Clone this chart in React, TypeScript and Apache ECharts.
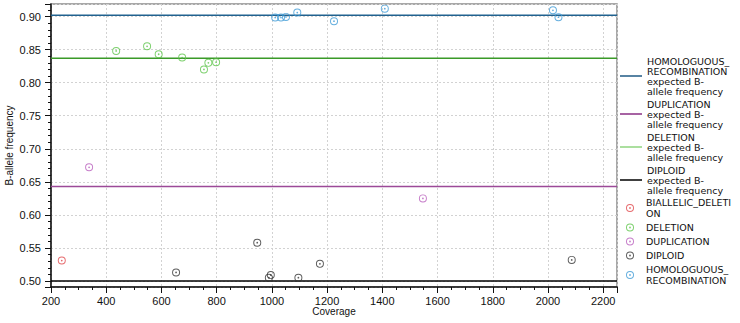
import React, { useEffect, useRef } from "react";
import * as echarts from "echarts";

// ---- data ----
const biallelicCoverage = [239];
const biallelicBaf = [0.531];
const deletionCoverage = [436, 548, 590, 675, 754, 770, 798];
const deletionBaf = [0.848, 0.855, 0.843, 0.838, 0.82, 0.83, 0.831];
const duplicationCoverage = [338, 1547];
const duplicationBaf = [0.672, 0.625];
const diploidCoverage = [653, 947, 989, 996, 1096, 1174, 2086];
const diploidBaf = [0.513, 0.558, 0.505, 0.509, 0.505, 0.526, 0.532];
const homCoverage = [1012, 1033, 1051, 1092, 1225, 1409, 2018, 2038];
const homBaf = [0.8985, 0.8985, 0.8995, 0.906, 0.893, 0.912, 0.9095, 0.899];

const expectedNames = [
  "HOMOLOGUOUS_RECOMBINATION expected B-allele frequency",
  "DUPLICATION expected B-allele frequency",
  "DELETION expected B-allele frequency",
  "DIPLOID expected B-allele frequency",
];
const expectedLabels = [
  "HOMOLOGUOUS_\nRECOMBINATION\nexpected B-\nallele frequency",
  "DUPLICATION\nexpected B-\nallele frequency",
  "DELETION\nexpected B-\nallele frequency",
  "DIPLOID\nexpected B-\nallele frequency",
];
const expectedValues = [0.902, 0.643, 0.837, 0.5];
const expectedColors = ["#21628f", "#9c4a98", "#3a9a28", "#000000"];
const expectedLegendColors = ["#1f5a85", "#8a2f84", "#8fd47f", "#000000"];

const pointNames = [
  "BIALLELIC_DELETION",
  "DELETION",
  "DUPLICATION",
  "DIPLOID",
  "HOMOLOGUOUS_RECOMBINATION",
];
const pointLabels = [
  "BIALLELIC_DELETI\nON",
  "DELETION",
  "DUPLICATION",
  "DIPLOID",
  "HOMOLOGUOUS_\nRECOMBINATION",
];
const pointColors = ["#e0464a", "#5cc44a", "#b85cbc", "#333333", "#3d9ad6"];
const pointX = [biallelicCoverage, deletionCoverage, duplicationCoverage, diploidCoverage, homCoverage];
const pointY = [biallelicBaf, deletionBaf, duplicationBaf, diploidBaf, homBaf];

const xMin = 200;
const xMax = 2250;
const yMin = 0.491;
const yMax = 0.919;

const SYMBOL =
  "path://M5,0A5,5,0,1,0,-5,0A5,5,0,1,0,5,0ZM3.8,0A3.8,3.8,0,1,1,-3.8,0A3.8,3.8,0,1,1,3.8,0ZM1.1,0A1.1,1.1,0,1,0,-1.1,0A1.1,1.1,0,1,0,1.1,0Z";

export default function App() {
  const ref = useRef<HTMLDivElement>(null);
  useEffect(() => {
    if (!ref.current) return;
    const chart = echarts.init(ref.current, undefined, { renderer: "svg" });
    const font = "Liberation Sans";
    const legendFont = "DejaVu Sans";
    const labelMap: Record<string, string> = {};
    expectedNames.forEach((n, i) => (labelMap[n] = expectedLabels[i]));
    pointNames.forEach((n, i) => (labelMap[n] = pointLabels[i]));

    const lineSeries = expectedNames.map((name, i) => ({
      name,
      type: "line",
      symbol: "none",
      silent: true,
      z: 1,
      data: [
        [xMin, expectedValues[i]],
        [xMax, expectedValues[i]],
      ],
      lineStyle: { color: expectedColors[i], width: 1.5 },
      itemStyle: { color: expectedColors[i] },
    }));
    const scatterSeries = pointNames.map((name, i) => ({
      name,
      type: "scatter",
      symbol: SYMBOL,
      symbolSize: 8,
      z: 3,
      data: pointX[i].map((x, j) => [x, pointY[i][j]]),
      itemStyle: { color: pointColors[i] },
    }));

    chart.setOption({
      animation: false,
      textStyle: { fontFamily: font },
      grid: {
        left: 51,
        right: 123,
        top: 4,
        bottom: 36,
        containLabel: false,
        outerBoundsMode: "none",
        show: true,
        borderColor: "#8c8c8c",
        borderWidth: 1.5,
      },
      xAxis: {
        type: "value",
        min: xMin,
        max: xMax,
        interval: 200,
        name: "Coverage",
        nameLocation: "middle",
        nameGap: 19,
        nameMoveOverlap: false,
        nameTextStyle: { fontSize: 10, color: "#111", fontFamily: font },
        axisLine: { show: true, onZero: false, lineStyle: { color: "#111", width: 1.5 } },
        axisTick: { show: true, length: 6, lineStyle: { color: "#111" } },
        minorTick: { show: true, splitNumber: 4, length: 3, lineStyle: { color: "#111" } },
        axisLabel: {
          color: "#111",
          fontSize: 11,
          margin: 8,
          fontFamily: font,
          formatter: (v: number) => (Math.abs(v % 200) < 1e-6 ? String(v) : ""),
        },
        splitLine: { show: true, lineStyle: { color: "#d2d2d2", type: [2, 2] } },
      },
      yAxis: {
        type: "value",
        min: yMin,
        max: yMax,
        splitNumber: 8,
        name: "B-allele frequency",
        nameLocation: "middle",
        nameGap: 37,
        nameMoveOverlap: false,
        nameTextStyle: { fontSize: 10, color: "#111", fontFamily: font },
        axisLine: { show: true, onZero: false, lineStyle: { color: "#111", width: 1.5 } },
        axisTick: { show: true, length: 6, lineStyle: { color: "#111" } },
        minorTick: { show: true, splitNumber: 5, length: 3, lineStyle: { color: "#111" } },
        axisLabel: {
          color: "#111",
          fontSize: 11,
          margin: 10,
          fontFamily: font,
          formatter: (v: number) =>
            Math.abs(v * 20 - Math.round(v * 20)) < 1e-6 ? v.toFixed(2) : "",
        },
        splitLine: { show: true, lineStyle: { color: "#d2d2d2", type: [2, 2] } },
      },
      legend: [
        {
          orient: "vertical",
          left: 620,
          top: 56,
          padding: 0,
          itemWidth: 22,
          itemHeight: 1.5,
          itemGap: 3,
          selectedMode: false,
          icon: "rect",
          data: expectedNames.map((n, i) => ({
            name: n,
            icon: "rect",
            itemStyle: { color: expectedLegendColors[i], borderWidth: 0 },
          })),
          formatter: (n: string) => labelMap[n] || n,
          textStyle: { fontSize: 9.5, lineHeight: 10, color: "#111", fontFamily: legendFont },
        },
        {
          orient: "vertical",
          left: 626,
          top: 197,
          padding: 0,
          itemWidth: 8,
          itemHeight: 8,
          itemGap: 3,
          selectedMode: false,
          data: pointNames,
          formatter: (n: string) => labelMap[n] || n,
          textStyle: {
            fontSize: 9.5,
            lineHeight: 11,
            color: "#111",
            fontFamily: legendFont,
            padding: [0, 0, 0, 7],
          },
        },
      ],
      series: [...lineSeries, ...scatterSeries],
    });
    return () => chart.dispose();
  }, []);
  return (
    <div
      ref={ref}
      style={{ position: "fixed", left: 0, top: 0, width: 740, height: 323, background: "#fff" }}
    />
  );
}
